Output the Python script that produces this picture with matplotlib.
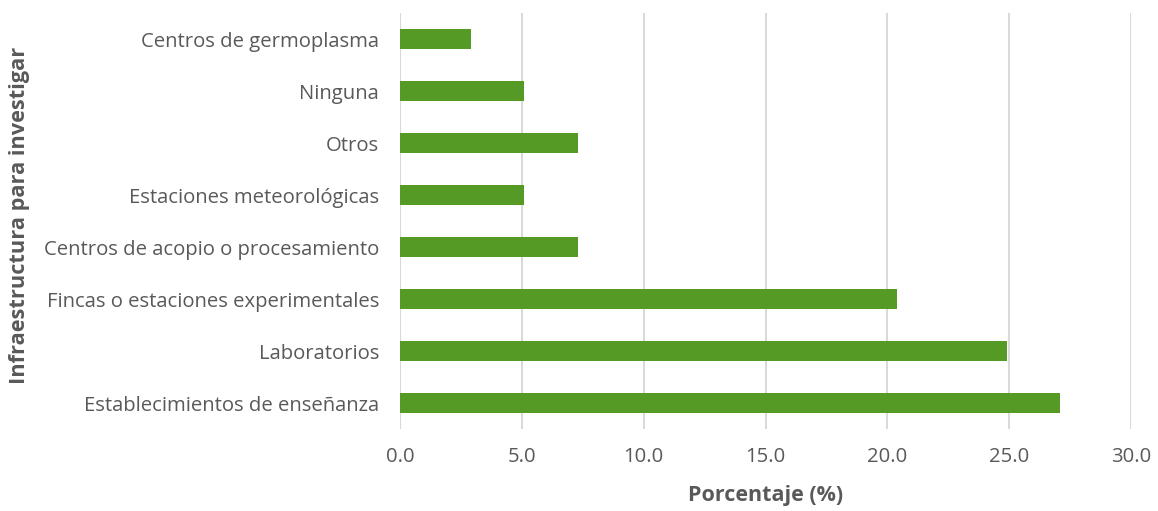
import matplotlib
matplotlib.use("Agg")
import matplotlib.pyplot as plt

categories = [
    "Establecimientos de enseñanza",
    "Laboratorios",
    "Fincas o estaciones experimentales",
    "Centros de acopio o procesamiento",
    "Estaciones meteorológicas",
    "Otros",
    "Ninguna",
    "Centros de germoplasma",
]
values = [27.1, 24.9, 20.4, 7.3, 5.1, 7.3, 5.1, 2.9]
xticks = [0, 5, 10, 15, 20, 25, 30]

plt.rcParams["font.family"] = ["Open Sans", "DejaVu Sans"]
text_color = "#595959"

fig = plt.figure(figsize=(11.58, 5.11), dpi=100)
ax = fig.add_axes([400 / 1158, 1 - 429 / 511, 731 / 1158, 416 / 511])

ax.barh(range(len(categories)), values, height=0.4, color="#559A25", zorder=3)

ax.set_xlim(0, 30)
ax.set_ylim(-0.5, len(categories) - 0.5)
ax.set_xticks(xticks)
ax.set_xticklabels([f"{t:.1f}" for t in xticks])
ax.set_yticks(range(len(categories)))
ax.set_yticklabels(categories)

ax.grid(axis="x", color="#d6d6d6", linewidth=1.3, zorder=0)
ax.grid(axis="y", visible=False)
for s in ax.spines.values():
    s.set_visible(False)
ax.tick_params(axis="both", length=0, labelsize=14.6, labelcolor=text_color)
ax.tick_params(axis="x", pad=13)
ax.tick_params(axis="y", pad=15)

ax.set_xlabel("Porcentaje (%)", fontsize=15.5, fontweight="bold", color=text_color, labelpad=13)
fig.text(20 / 1158, 1 - 215 / 511, "Infraestructura para investigar", rotation=90,
         fontsize=15.7, fontweight="bold", color=text_color, ha="center", va="center")

fig.savefig("out.png", dpi=100, facecolor="white")
